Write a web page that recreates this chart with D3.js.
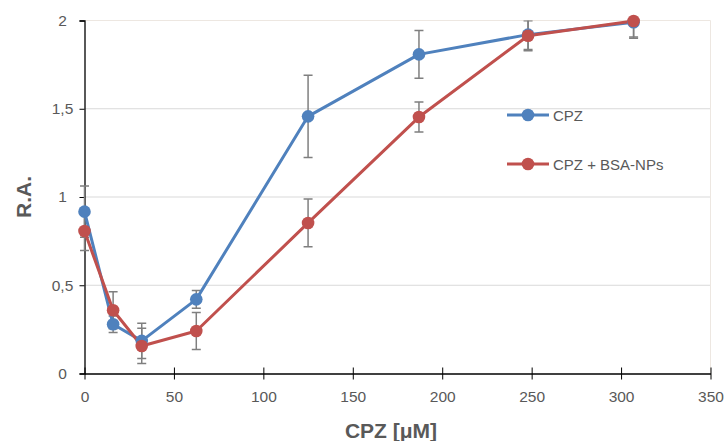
<!DOCTYPE html>
<html>
<head>
<meta charset="utf-8">
<script src="https://cdn.jsdelivr.net/npm/d3@7"></script>
<style>
  body { margin: 0; background: #fff; }
  text { font-family: "Liberation Sans", Arial, sans-serif; }
</style>
</head>
<body>
<div id="chart"></div>
<script>
// concentrations (uM)
var conc = [0, 16, 32, 62.5, 125, 187, 248, 307];
// CPZ alone
var cpz = [0.917, 0.279, 0.185, 0.42, 1.457, 1.808, 1.92, 1.99];
var cpzErr = [0.145, 0.047, 0.1, 0.05, 0.233, 0.135, 0.085, 0.09];
// CPZ + BSA-NPs
var cpzNp = [0.807, 0.358, 0.156, 0.241, 0.853, 1.453, 1.914, 1.997];
var cpzNpErr = [0.11, 0.105, 0.1, 0.105, 0.135, 0.085, 0.085, 0.09];

var xTicks = [0, 50, 100, 150, 200, 250, 300, 350];
var yTicks = [0, 0.5, 1, 1.5, 2];
var seriesNames = ["CPZ", "CPZ + BSA-NPs"];

function draw_chart() {
    const W = 727, H = 441;
    const LEFT = 84.5, RIGHT = 710.5, TOP = 20.5, BOTTOM = 373.5;
    const BLUE = "#4F81BD", RED = "#C0504D";
    const CAP = 4.5;

    var series = [
        { name: seriesNames[0], y: cpz, err: cpzErr, color: BLUE },
        { name: seriesNames[1], y: cpzNp, err: cpzNpErr, color: RED }
    ];

    var x = d3.scaleLinear().domain([0, 350]).range([LEFT, RIGHT]);
    var y = d3.scaleLinear().domain([0, 2]).range([BOTTOM, TOP]);

    var svg = d3.select("#chart")
        .append("svg")
            .attr("width", W)
            .attr("height", H);

    // error bars get cut at the plot edge, markers don't
    svg.append("defs").append("clipPath")
        .attr("id", "plot")
        .append("rect")
            .attr("x", LEFT - 10)
            .attr("y", TOP)
            .attr("width", RIGHT - LEFT + 20)
            .attr("height", BOTTOM - TOP + 10);

    // grid lines
    svg.append("g")
        .selectAll("line")
        .data(yTicks.slice(1, -1))
        .enter()
        .append("line")
            .attr("x1", LEFT)
            .attr("x2", RIGHT)
            .attr("y1", function (d) { return y(d); })
            .attr("y2", function (d) { return y(d); })
            .attr("stroke", "#d9d9d9")
            .attr("stroke-width", 1);

    // plot area border (top + right)
    svg.append("path")
        .attr("d", "M" + LEFT + "," + TOP + "H" + RIGHT + "V" + BOTTOM)
        .attr("fill", "none")
        .attr("stroke", "#ede7e1")
        .attr("stroke-width", 1);

    // y axis
    var yAxis = d3.axisLeft(y)
        .tickValues(yTicks)
        .tickSize(5)
        .tickFormat(function (d) { return String(d).replace(".", ","); });
    var gy = svg.append("g")
        .attr("transform", "translate(" + LEFT + ",0)")
        .call(yAxis);
    gy.select(".domain").attr("stroke", "#000").attr("stroke-width", 1.3);
    gy.selectAll(".tick line").attr("stroke", "#000");
    gy.selectAll(".tick text")
        .attr("x", -22)
        .attr("text-anchor", "middle")
        .attr("fill", "#595959")
        .style("font-size", "15.5px");

    // x axis (cross ticks)
    var xAxis = d3.axisBottom(x)
        .tickValues(xTicks)
        .tickSize(6)
        .tickSizeOuter(0);
    var gx = svg.append("g")
        .attr("transform", "translate(0," + BOTTOM + ")")
        .call(xAxis);
    gx.select(".domain").attr("stroke", "#000").attr("stroke-width", 1.3);
    gx.selectAll(".tick line").attr("stroke", "#000").attr("y1", -6).attr("y2", 6);
    gx.selectAll(".tick text")
        .attr("y", 17)
        .attr("fill", "#595959")
        .style("font-size", "15.5px");

    // axis titles
    svg.append("text")
        .attr("transform", "translate(31," + y(1) + ") rotate(-90)")
        .attr("text-anchor", "middle")
        .attr("fill", "#595959")
        .style("font-size", "21px")
        .style("font-weight", "bold")
        .text("R.A.");

    svg.append("text")
        .attr("x", 391)
        .attr("y", 438)
        .attr("text-anchor", "middle")
        .attr("fill", "#595959")
        .style("font-size", "21px")
        .style("font-weight", "bold")
        .text("CPZ [\u03BCM]");

    var errs = svg.append("g").attr("clip-path", "url(#plot)");

    series.forEach(function (s) {
        var g = errs.append("g")
            .attr("stroke", "#7f7f7f")
            .attr("stroke-width", 1.5)
            .attr("fill", "none");
        g.selectAll("path")
            .data(conc)
            .enter()
            .append("path")
            .attr("d", function (d, i) {
                var cx = x(d), hi = y(s.y[i] + s.err[i]), lo = y(s.y[i] - s.err[i]);
                return "M" + cx + "," + hi + "V" + lo +
                    "M" + (cx - CAP) + "," + hi + "H" + (cx + CAP) +
                    "M" + (cx - CAP) + "," + lo + "H" + (cx + CAP);
            });
    });

    var line = d3.line()
        .x(function (d, i) { return x(conc[i]); })
        .y(function (d) { return y(d); });

    series.forEach(function (s) {
        svg.append("path")
            .attr("d", line(s.y))
            .attr("stroke", s.color)
            .attr("stroke-width", 3)
            .attr("stroke-linejoin", "round")
            .attr("fill", "none");
    });

    series.forEach(function (s) {
        svg.append("g")
            .selectAll("circle")
            .data(s.y)
            .enter()
            .append("circle")
            .attr("cx", function (d, i) { return x(conc[i]); })
            .attr("cy", function (d) { return y(d); })
            .attr("r", 6.3)
            .attr("fill", s.color);
    });

    // legend
    var legend = svg.append("g")
        .selectAll("g")
        .data(series)
        .enter()
        .append("g")
            .attr("transform", function (d, i) { return "translate(507," + (115 + i * 49) + ")"; });
    legend.append("line")
        .attr("x1", 0)
        .attr("x2", 42)
        .attr("stroke", function (d) { return d.color; })
        .attr("stroke-width", 3);
    legend.append("circle")
        .attr("cx", 21)
        .attr("r", 6.3)
        .attr("fill", function (d) { return d.color; });
    legend.append("text")
        .attr("x", 46)
        .attr("y", 5.5)
        .attr("fill", "#595959")
        .style("font-size", "15px")
        .text(function (d) { return d.name; });
}

draw_chart();
</script>
</body>
</html>
